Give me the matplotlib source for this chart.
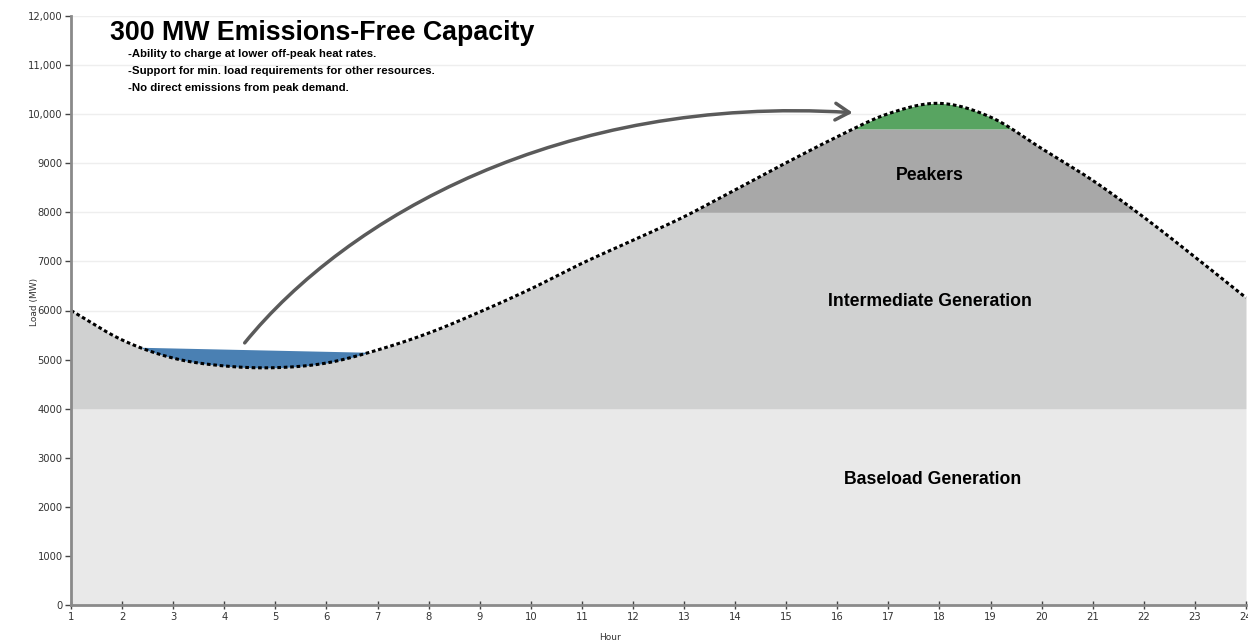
import numpy as np
import matplotlib
matplotlib.use("Agg")
import matplotlib.pyplot as plt
from matplotlib.patches import FancyArrowPatch
from matplotlib.path import Path
from matplotlib import font_manager

# Hourly system load (MW)
hours = list(range(1, 25))
load_mw = [6000, 5400, 5030, 4870, 4835, 4930, 5195, 5540, 5970, 6440, 6960, 7430,
           7910, 8460, 9010, 9540, 10010, 10220, 9940, 9300, 8650, 7900, 7090, 6260]

baseload_mw = 4000
intermediate_mw = 8000
peaker_mw = 9700

# Off-peak charging window (hour, MW) at start and end
charge_hours = [2.4, 6.8]
charge_top_mw = [5250, 5150]

y_ticks = [0, 1000, 2000, 3000, 4000, 5000, 6000, 7000, 8000, 9000, 10000, 11000, 12000]
y_tick_labels = ["0", "1000", "2000", "3000", "4000", "5000", "6000", "7000", "8000",
                 "9000", "10,000", "11,000", "12,000"]

title_text = "300 MW Emissions-Free Capacity"
bullet_lines = ["-Ability to charge at lower off-peak heat rates.",
                "-Support for min. load requirements for other resources.",
                "-No direct emissions from peak demand."]


def catmull_rom(x, y, n=40):
    """Smooth spline through the hourly points for display."""
    x = np.asarray(x, float)
    y = np.asarray(y, float)
    xp = np.concatenate([[2 * x[0] - x[1]], x, [2 * x[-1] - x[-2]]])
    yp = np.concatenate([[2 * y[0] - y[1]], y, [2 * y[-1] - y[-2]]])
    xs, ys = [], []
    for i in range(1, len(xp) - 2):
        t = np.linspace(0, 1, n, endpoint=False)
        p0, p1, p2, p3 = yp[i - 1], yp[i], yp[i + 1], yp[i + 2]
        ys.append(0.5 * ((2 * p1) + (-p0 + p2) * t + (2 * p0 - 5 * p1 + 4 * p2 - p3) * t ** 2
                         + (-p0 + 3 * p1 - 3 * p2 + p3) * t ** 3))
        xs.append(xp[i] + (xp[i + 1] - xp[i]) * t)
    xs.append([x[-1]])
    ys.append([y[-1]])
    return np.concatenate(xs), np.concatenate(ys)


xs, ys = catmull_rom(hours, load_mw)

installed = {f.name for f in font_manager.fontManager.ttflist}
if "Liberation Sans Narrow" in installed:
    bullet_font = dict(family="Liberation Sans Narrow", fontsize=8.9)
else:
    bullet_font = dict(family="Liberation Sans", fontsize=8.2)

fig = plt.figure(figsize=(12.48, 6.43), dpi=100)
ax = fig.add_axes([71 / 1248, 1 - 605 / 643, (1246 - 71) / 1248, (605 - 16) / 643])

for v in y_ticks[1:]:
    ax.axhline(v, color="#eeeeee", lw=1, zorder=0)

c_base = "#e9e9e9"
c_inter = "#d0d1d1"
c_peak = "#a8a8a8"
c_green = "#58a461"
c_blue = "#4a80b3"

ax.fill_between(xs, 0, np.minimum(ys, baseload_mw), color=c_base, lw=0, zorder=1)
ax.fill_between(xs, baseload_mw, np.clip(ys, baseload_mw, intermediate_mw),
                color=c_inter, lw=0, zorder=1)
ax.fill_between(xs, intermediate_mw, np.clip(ys, intermediate_mw, peaker_mw),
                where=ys > intermediate_mw, interpolate=True, color=c_peak, lw=0, zorder=1)
ax.fill_between(xs, peaker_mw, ys, where=ys > peaker_mw, interpolate=True,
                color=c_green, lw=0, zorder=1)

charge_line = np.interp(xs, charge_hours, charge_top_mw)
mask = (xs >= charge_hours[0]) & (xs <= charge_hours[1]) & (ys < charge_line)
ax.fill_between(xs, ys, charge_line, where=mask, interpolate=True,
                color=c_blue, lw=0, zorder=2)

ax.plot(xs, ys, color="black", lw=2.2, linestyle=(0, (1.2, 0.9)), zorder=3, clip_on=False)

# Curved arrow from the charging window to the peak
verts = [(4.4, 5340), (6.4, 7900), (10.6, 10400), (16.3, 10030)]
codes = [Path.MOVETO, Path.CURVE4, Path.CURVE4, Path.CURVE4]
arrow = FancyArrowPatch(path=Path(verts, codes), arrowstyle="->,head_length=10,head_width=6",
                        color="#5a5a5a", lw=2.5, zorder=4)
ax.add_patch(arrow)

ax.set_xlim(1, 24)
ax.set_ylim(0, 12000)
ax.set_xticks(hours)
ax.set_xticklabels([str(h) for h in hours])
ax.set_yticks(y_ticks)
ax.set_yticklabels(y_tick_labels)

for s in ["top", "right"]:
    ax.spines[s].set_visible(False)
for s in ["left", "bottom"]:
    ax.spines[s].set_color("#8a8a8a")
    ax.spines[s].set_linewidth(2)
    ax.spines[s].set_zorder(5)

ax.tick_params(axis="y", direction="out", length=4, width=1, color="#444444",
               labelsize=7.2, labelcolor="#333333", pad=2)
ax.tick_params(axis="x", direction="inout", length=6, width=1, color="#444444",
               labelsize=7.2, labelcolor="#333333", pad=2)

fig.text(35 / 1248, 1 - 302 / 643, "Load (MW)", rotation=90, fontsize=6.5,
         color="#333333", ha="center", va="center")
fig.text(610 / 1248, 1 - 637 / 643, "Hour", fontsize=6.5, color="#333333",
         ha="center", va="center")

bold = dict(family="Liberation Sans", fontweight="bold", color="black")
fig.text(110 / 1248, 1 - 33 / 643, title_text, fontsize=19.3, va="center", **bold)
for i, line in enumerate(bullet_lines):
    fig.text(128 / 1248, 1 - (54 + i * 17) / 643, line, va="center",
             fontweight="bold", color="black", **bullet_font)

fig.text(930 / 1248, 1 - 175 / 643, "Peakers", fontsize=12.7, ha="center", va="center", **bold)
fig.text(930 / 1248, 1 - 302 / 643, "Intermediate Generation", fontsize=12.7,
         ha="center", va="center", **bold)
fig.text(933 / 1248, 1 - 480 / 643, "Baseload Generation", fontsize=12.7,
         ha="center", va="center", **bold)

fig.savefig("out.png", dpi=100)
